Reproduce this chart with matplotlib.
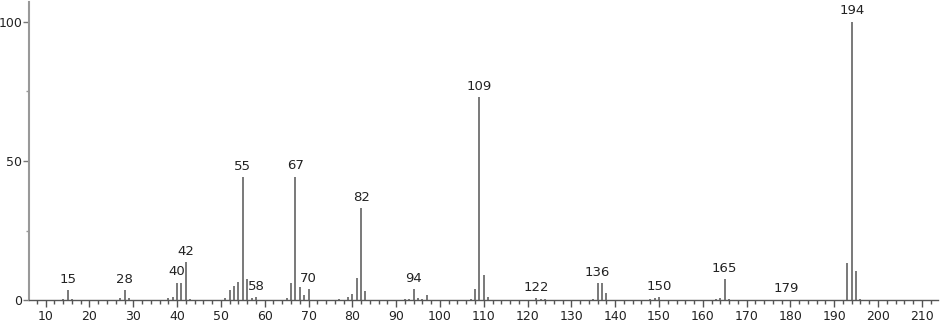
import matplotlib
matplotlib.use("Agg")
import matplotlib.pyplot as plt
from matplotlib.ticker import MultipleLocator

# m/z values and relative intensities (%)
mz = [14, 15, 16, 26, 27, 28, 29, 30, 31,
      38, 39, 40, 41, 42, 43, 44,
      50, 51, 52, 53, 54, 55, 56, 57, 58, 59, 60, 62,
      64, 65, 66, 67, 68, 69, 70, 71, 72,
      77, 78, 79, 80, 81, 82, 83, 84,
      91, 92, 93, 94, 95, 96, 97, 98,
      106, 107, 108, 109, 110, 111, 112,
      120, 121, 122, 123, 124, 125,
      133, 134, 135, 136, 137, 138, 139,
      147, 148, 149, 150, 151, 152,
      161, 162, 163, 164, 165, 166, 167,
      179, 193, 194, 195, 196, 197]
intensity = [0.4, 3.8, 0.5, 0.3, 0.8, 3.8, 1.0, 0.3, 0.3,
             0.9, 1.3, 6.4, 6.4, 13.7, 0.7, 0.3,
             0.2, 0.9, 3.8, 5.2, 6.7, 44.2, 7.7, 1.0, 1.3, 0.3, 0.2, 0.3,
             0.3, 1.0, 6.2, 44.4, 5.0, 2.0, 4.0, 0.3, 0.2,
             0.7, 0.2, 1.1, 2.3, 8.1, 33.0, 3.4, 0.3,
             0.3, 0.4, 0.7, 4.1, 0.9, 0.5, 2.1, 0.3,
             0.2, 0.7, 4.0, 72.9, 9.1, 1.3, 0.3,
             0.2, 0.3, 1.0, 0.7, 0.5, 0.2,
             0.2, 0.3, 0.7, 6.2, 6.2, 2.8, 0.3,
             0.3, 0.4, 0.8, 1.3, 0.2, 0.3,
             0.3, 0.3, 0.4, 0.8, 7.6, 0.7, 0.3,
             0.3, 13.4, 100.0, 10.5, 0.7, 0.2]
labeled = [15, 28, 40, 42, 55, 58, 67, 70, 82, 94, 109, 122, 136, 150, 165, 179, 194]

x_major = list(range(10, 211, 10))
y_major = [0, 50, 100]

fig = plt.figure(figsize=(9.4, 3.23), dpi=100)
ax = fig.add_axes([0.0309, 0.0697, 0.9670, 0.9241])

ax.vlines(mz, 0, intensity, colors="#555555", linewidth=1.1)

inten = dict(zip(mz, intensity))
for m in labeled:
    ax.annotate(str(m), xy=(m, inten[m]), xytext=(0, 3), textcoords="offset points",
                ha="center", va="bottom", fontsize=9.5, color="#222222")

ax.set_xlim(6.2, 213.7)
ax.set_ylim(0, 107)
ax.set_xticks(x_major)
ax.set_yticks(y_major)
ax.xaxis.set_minor_locator(MultipleLocator(2))
ax.yaxis.set_minor_locator(MultipleLocator(25))

for s in ["top", "right"]:
    ax.spines[s].set_visible(False)
ax.spines["left"].set_color("#999999")
ax.spines["bottom"].set_color("#555555")
ax.spines["left"].set_linewidth(1.5)
ax.spines["bottom"].set_linewidth(1.0)

ax.tick_params(axis="x", which="major", length=5, width=1, color="#555555",
               labelsize=9, labelcolor="#222222", pad=2)
ax.tick_params(axis="x", which="minor", length=3, width=1, color="#555555")
ax.tick_params(axis="y", which="major", length=4, width=1, color="#777777",
               labelsize=9, labelcolor="#222222", pad=1)
ax.tick_params(axis="y", which="minor", length=2, width=1, color="#999999")

fig.savefig("out.png", dpi=100)
